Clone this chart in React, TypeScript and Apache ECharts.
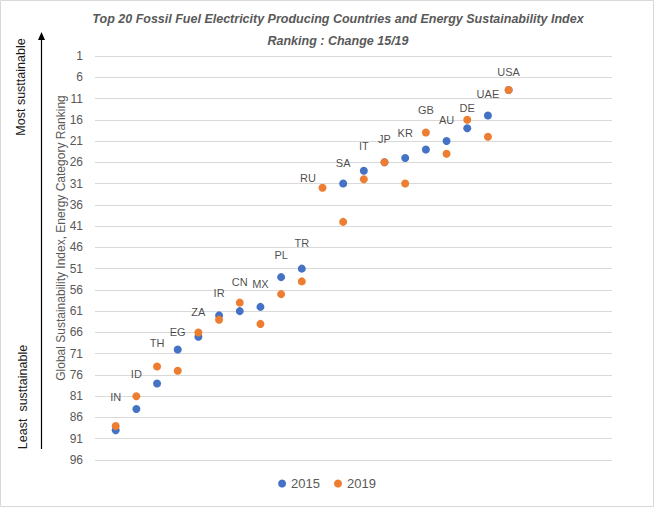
import React, { useEffect, useRef } from "react";
import * as echarts from "echarts";

const countries = ["IN", "ID", "TH", "EG", "ZA", "IR", "CN", "MX", "PL", "TR", "RU", "SA", "IT", "JP", "KR", "GB", "AU", "DE", "UAE", "USA"];
const rank2015: (number | null)[] = [89, 84, 78, 70, 67, 62, 61, 60, 53, 51, null, 31, 28, 26, 25, 23, 21, 18, 15, 9];
const rank2019: number[] = [88, 81, 74, 75, 66, 63, 59, 64, 57, 54, 32, 40, 30, 26, 31, 19, 24, 16, 20, 9];
// label placement helper series (rank positions of the country labels)
const labelRank: number[] = [81.2, 75.8, 68.5, 65.9, 61.2, 56.8, 54.2, 54.6, 47.8, 45, 29.7, 26.2, 22.2, 20.5, 19.1, 13.7, 16.1, 13.2, 9.9, 4.8];
const labelShift: number[] = [0, 0, 0, 0, 0, 0, 0, 0, 0, 0, -0.7, 0, 0, 0, 0, 0, 0, 0, 0, 0];
const yTicks = { min: 1, max: 96, interval: 5 };
const titleLines = ["Top 20 Fossil Fuel Electricity Producing Countries and Energy Sustainability Index", "Ranking : Change 15/19"];

export default function App() {
  const ref = useRef<HTMLDivElement>(null);
  useEffect(() => {
    document.body.style.margin = "0";
    const chart = echarts.init(ref.current!, null, { renderer: "svg" });
    const font = "'Liberation Sans', Arial, sans-serif";
    const gray = "#595959";
    chart.setOption({
      animation: false,
      backgroundColor: "#ffffff",
      grid: { left: 95, right: 42, top: 56, bottom: 47 },
      xAxis: {
        type: "value",
        min: 0,
        max: 25,
        show: false,
      },
      yAxis: {
        type: "value",
        inverse: true,
        min: yTicks.min,
        max: yTicks.max,
        interval: yTicks.interval,
        axisLine: { show: false },
        axisTick: { show: false },
        axisLabel: { color: gray, fontSize: 12, fontFamily: font, margin: 12 },
        splitLine: { lineStyle: { color: "#d9d9d9", width: 1 } },
      },
      legend: {
        data: ["2015", "2019"],
        bottom: 12,
        left: "center",
        icon: "circle",
        itemWidth: 8,
        itemHeight: 8,
        itemGap: 14,
        textStyle: { color: gray, fontSize: 13, fontFamily: font },
      },
      series: [
        {
          name: "labels",
          type: "scatter",
          symbolSize: 1,
          silent: true,
          z: 1,
          itemStyle: { color: "rgba(0,0,0,0)" },
          label: {
            show: true,
            position: "inside",
            formatter: "{b}",
            color: "#1a1a1a",
            fontSize: 11,
            fontFamily: font,
          },
          data: countries.map((c, i) => ({ name: c, value: [i + 1 + labelShift[i], labelRank[i]] })),
        },
        {
          name: "2015",
          type: "scatter",
          symbolSize: 8,
          z: 3,
          itemStyle: { color: "#4472C4", opacity: 1 },
          data: rank2015.map((v, i) => (v == null ? null : [i + 1, v])).filter((d) => d !== null),
        },
        {
          name: "2019",
          type: "scatter",
          symbolSize: 8,
          z: 4,
          itemStyle: { color: "#ED7D31", opacity: 1 },
          data: rank2019.map((v, i) => [i + 1, v]),
        },
      ],
      graphic: [
        {
          type: "rect",
          shape: { x: 0.5, y: 0.5, width: 653, height: 506 },
          style: { fill: "none", stroke: "#d9d9d9", lineWidth: 1 },
          silent: true,
        },
        {
          type: "text",
          x: 338,
          y: 8,
          style: {
            text: titleLines.join("\n"),
            fill: gray,
            fontStyle: "italic",
            fontWeight: "bold",
            fontSize: 12.5,
            fontFamily: font,
            lineHeight: 22,
            align: "center",
            textAlign: "center",
          },
        },
        {
          type: "text",
          x: 61,
          y: 238,
          rotation: Math.PI / 2,
          style: {
            text: "Global Sustainability Index, Energy Category Ranking",
            fill: gray,
            fontSize: 12,
            fontFamily: font,
            align: "center",
            verticalAlign: "middle",
            textAlign: "center",
            textVerticalAlign: "middle",
          },
        },
        {
          type: "text",
          x: 21,
          y: 87,
          rotation: Math.PI / 2,
          style: {
            text: "Most susttainable",
            fill: "#1a1a1a",
            fontSize: 12.5,
            fontFamily: font,
            align: "center",
            verticalAlign: "middle",
            textAlign: "center",
            textVerticalAlign: "middle",
          },
        },
        {
          type: "text",
          x: 23,
          y: 397,
          rotation: Math.PI / 2,
          style: {
            text: "Least  susttainable",
            fill: "#1a1a1a",
            fontSize: 12.5,
            fontFamily: font,
            align: "center",
            verticalAlign: "middle",
            textAlign: "center",
            textVerticalAlign: "middle",
          },
        },
        {
          type: "line",
          shape: { x1: 41.5, y1: 449, x2: 41.5, y2: 37 },
          style: { stroke: "#000000", lineWidth: 1.2 },
        },
        {
          type: "polygon",
          shape: { points: [[38, 40], [45, 40], [41.5, 32]] },
          style: { fill: "#000000" },
        },
      ],
    });
    return () => chart.dispose();
  }, []);
  return <div ref={ref} style={{ width: 654, height: 507 }} />;
}
